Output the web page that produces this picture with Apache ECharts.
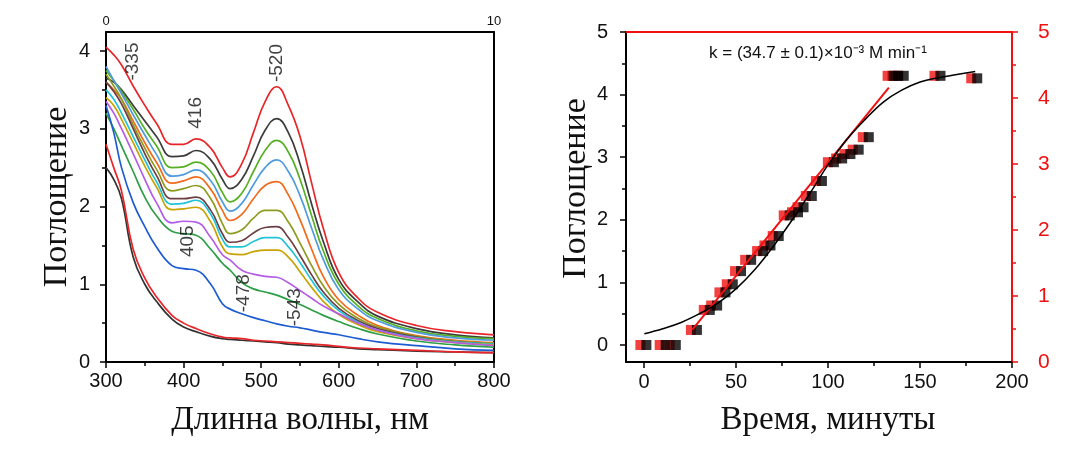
<!DOCTYPE html>
<html><head><meta charset="utf-8">
<script src="https://cdn.jsdelivr.net/npm/echarts@6/dist/echarts.min.js"></script>
<style>html,body{margin:0;padding:0;background:#fff}#c{width:1083px;height:471px}</style>
</head><body><div id="c"></div>
<script>
// ---- Left panel: spectra ----
const wavelengths = [300,310,320,335,350,365,385,400,416,435,450,460,475,490,505,520,535,550,565,580,600,625,650,700,750,800];
const spec01 = [4.05,3.95,3.82,3.55,3.3,3.07,2.8,2.8,2.87,2.75,2.5,2.38,2.55,2.95,3.35,3.54,3.3,2.9,2.3,1.72,1.15,0.82,0.64,0.47,0.39,0.35];
const spec02 = [3.65,3.6,3.5,3.3,3.1,2.9,2.64,2.65,2.72,2.6,2.35,2.23,2.35,2.65,2.98,3.13,2.95,2.55,2.03,1.55,1.06,0.77,0.59,0.43,0.35,0.31];
const spec03 = [3.75,3.62,3.48,3.25,3.0,2.78,2.5,2.51,2.57,2.45,2.18,2.06,2.17,2.45,2.72,2.85,2.7,2.35,1.88,1.43,1.0,0.72,0.56,0.4,0.33,0.3];
const spec04 = [3.8,3.62,3.45,3.18,2.92,2.67,2.39,2.41,2.47,2.33,2.06,1.94,2.04,2.28,2.5,2.6,2.45,2.14,1.72,1.32,0.93,0.68,0.53,0.38,0.31,0.28];
const spec05 = [3.6,3.5,3.38,3.1,2.82,2.57,2.3,2.33,2.38,2.22,1.95,1.82,1.9,2.1,2.27,2.32,2.15,1.83,1.45,1.1,0.8,0.6,0.47,0.34,0.28,0.25];
const spec06 = [3.7,3.55,3.38,3.05,2.75,2.48,2.2,2.23,2.27,2.1,1.78,1.65,1.7,1.85,1.95,1.95,1.8,1.53,1.24,0.98,0.74,0.56,0.45,0.33,0.27,0.24];
const spec07 = [3.6,3.48,3.32,3.0,2.68,2.4,2.1,2.1,2.12,1.95,1.65,1.54,1.56,1.66,1.73,1.74,1.6,1.37,1.12,0.9,0.69,0.53,0.43,0.32,0.26,0.23];
const spec08 = [3.5,3.38,3.2,2.9,2.6,2.32,2.03,2.04,2.08,1.9,1.58,1.48,1.48,1.55,1.6,1.6,1.48,1.28,1.05,0.85,0.66,0.51,0.41,0.31,0.26,0.23];
const spec09 = [3.4,3.3,3.12,2.82,2.52,2.25,1.96,1.97,1.99,1.8,1.48,1.39,1.38,1.42,1.44,1.44,1.35,1.16,0.96,0.78,0.61,0.48,0.39,0.3,0.25,0.22];
const spec10 = [3.35,3.2,3.0,2.68,2.35,2.05,1.79,1.81,1.8,1.6,1.38,1.31,1.18,1.13,1.1,1.09,1.02,0.92,0.82,0.72,0.62,0.5,0.41,0.3,0.25,0.21];
const spec11 = [3.2,3.0,2.78,2.45,2.12,1.88,1.68,1.65,1.63,1.45,1.27,1.18,1.02,0.94,0.9,0.86,0.8,0.74,0.67,0.6,0.52,0.43,0.36,0.27,0.22,0.19];
const spec12 = [3.3,2.95,2.5,2.05,1.74,1.48,1.24,1.2,1.18,1.0,0.75,0.68,0.62,0.57,0.53,0.49,0.46,0.44,0.41,0.38,0.35,0.3,0.26,0.21,0.17,0.15];
const spec13 = [2.5,2.35,2.1,1.35,1.0,0.78,0.55,0.45,0.39,0.33,0.3,0.29,0.28,0.27,0.26,0.25,0.23,0.22,0.21,0.2,0.19,0.17,0.16,0.14,0.13,0.12];
const spec14 = [2.8,2.5,2.2,1.45,1.08,0.84,0.6,0.5,0.43,0.36,0.32,0.31,0.3,0.28,0.27,0.26,0.25,0.24,0.23,0.22,0.2,0.18,0.17,0.15,0.13,0.12];
const spectra = [spec01,spec02,spec03,spec04,spec05,spec06,spec07,spec08,spec09,spec10,spec11,spec12,spec13,spec14];
const spectraColors = ['#e8262a','#3c3c3c','#56b024','#4f9bdc','#f26a1b','#8d9c1f','#6d3e43','#20c4d6','#c9a204','#b45ce6','#2e9e47','#1e5cd2','#333333','#e8262a'];

const peakText = ['-335','416','-520','405','-478','-543'];
const peakX = [335,416,520,405,478,543];
const peakY = [3.62,3.0,3.6,1.35,0.64,0.46];

// ---- Right panel: kinetics ----
const timeMin = [0,10.5,16,27.5,34.5,38.5,43,47,51.5,57,63.5,67.5,72,78,82.5,85.5,90,95.5,102,106.5,111,115.5,121,134.5,137,140,160,180];
const absorb = [0,0,0,0.24,0.56,0.63,0.84,0.97,1.18,1.36,1.5,1.59,1.74,2.07,2.12,2.2,2.38,2.62,2.92,2.98,3.05,3.12,3.32,4.3,4.3,4.3,4.3,4.26];
const fitT = [0,10,20,30,40,50,60,70,80,90,100,110,120,130,140,150,160,170,180];
const fitA = [0.18,0.26,0.36,0.5,0.67,0.9,1.2,1.57,1.98,2.42,2.88,3.28,3.6,3.88,4.07,4.2,4.27,4.32,4.37];
const linT = [26,133];
const linA = [0.24,4.11];
const kText = 'k = (34.7 ± 0.1)×10⁻³ M min⁻¹';

const SANS = 'Liberation Sans, Arial, sans-serif';
const SERIF = 'Liberation Serif, Times New Roman, serif';
const RED = '#f01010';

const lineBlack = {show:true, onZero:false, lineStyle:{color:'#000', width:2}};
const lineRed = {show:true, onZero:false, lineStyle:{color:RED, width:2}};
const noLine = {show:false, onZero:false};
const noTick = {show:false};
const noLabel = {show:false};
const noSplit = {show:false};
const tickBlack = {show:true, length:6, lineStyle:{color:'#000', width:1.5}};
const minorBlack = {show:true, splitNumber:2, length:4, lineStyle:{color:'#000', width:1.5}};

const series = [];
spectra.forEach((arr,i)=>{
  series.push({type:'line', xAxisIndex:0, yAxisIndex:0, showSymbol:false, symbol:'none',
    smooth:0.45, lineStyle:{width:1.7, color:spectraColors[i]}, color:spectraColors[i],
    data: wavelengths.map((w,j)=>[w, arr[j]]), z:2+i});
});
series.push({type:'scatter', xAxisIndex:0, yAxisIndex:0, symbolSize:0, silent:true,
  data: peakX.map((x,i)=>({value:[x, peakY[i]], name: peakText[i]})),
  label:{show:true, formatter:'{b}', position:'inside', rotate:90, align:'left', verticalAlign:'middle',
    fontFamily:SANS, fontSize:19, color:'#111'}, z:30});

series.push({type:'scatter', xAxisIndex:3, yAxisIndex:3, symbol:'rect', symbolSize:10, symbolOffset:[-4,0],
  itemStyle:{color:RED}, data: timeMin.map((t,i)=>[t, absorb[i]]), z:5});
series.push({type:'scatter', xAxisIndex:3, yAxisIndex:3, symbol:'rect', symbolSize:10, symbolOffset:[2,0],
  itemStyle:{color:'#000'}, data: timeMin.map((t,i)=>[t, absorb[i]]), z:6});
series.push({type:'line', xAxisIndex:3, yAxisIndex:3, symbol:'none', lineStyle:{color:RED, width:2},
  data: linT.map((t,i)=>[t, linA[i]]), z:7});
series.push({type:'line', xAxisIndex:3, yAxisIndex:3, symbol:'none', smooth:0.4, lineStyle:{color:'#000', width:1.5},
  data: fitT.map((t,i)=>[t, fitA[i]]), z:8});

const option = {
  backgroundColor:'#fff',
  animation:false,
  grid:[
    {left:106, top:32, width:388, height:330},
    {left:106, top:51, width:388, height:311},
    {left:626, top:32, width:386, height:330},
    {left:644, top:32, width:368, height:330},
    {left:626, top:32, width:386, height:313}
  ],
  xAxis:[
    {gridIndex:0, type:'value', min:300, max:800, interval:100, position:'bottom',
      axisLine:lineBlack, axisTick:tickBlack, minorTick:minorBlack,
      axisLabel:{fontFamily:SANS, fontSize:20, color:'#111', margin:9}, splitLine:noSplit, minorSplitLine:noSplit,
      name:'Длинна волны, нм', nameLocation:'middle', nameGap:42,
      nameTextStyle:{fontFamily:SERIF, fontSize:33, color:'#111'}},
    {gridIndex:0, type:'value', min:0, max:10, interval:10, position:'top',
      axisLine:lineBlack, axisTick:noTick, axisLabel:{fontFamily:SANS, fontSize:13, color:'#111', margin:4}, splitLine:noSplit},
    {gridIndex:1, type:'value', min:300, max:800, show:false, axisLine:noLine},
    {gridIndex:2, type:'value', min:-10, max:200, position:'bottom',
      axisLine:lineBlack, axisTick:noTick, axisLabel:noLabel, splitLine:noSplit},
    {gridIndex:2, type:'value', min:-10, max:200, position:'top',
      axisLine:lineRed, axisTick:noTick, axisLabel:noLabel, splitLine:noSplit},
    {gridIndex:3, type:'value', min:0, max:200, interval:50, position:'bottom',
      axisLine:noLine, axisTick:tickBlack, minorTick:minorBlack,
      axisLabel:{fontFamily:SANS, fontSize:20, color:'#111', margin:10}, splitLine:noSplit,
      name:'Время, минуты', nameLocation:'middle', nameGap:42,
      nameTextStyle:{fontFamily:SERIF, fontSize:33, color:'#111'}},
    {gridIndex:4, type:'value', min:0, max:200, show:false, axisLine:noLine}
  ],
  yAxis:[
    {gridIndex:0, type:'value', min:0, max:4.244, position:'left',
      axisLine:lineBlack, axisTick:noTick, axisLabel:noLabel, splitLine:noSplit,
      name:'Поглощение', nameLocation:'middle', nameGap:32,
      nameTextStyle:{fontFamily:SERIF, fontSize:34, color:'#111'}},
    {gridIndex:0, type:'value', min:0, max:4.244, position:'right',
      axisLine:lineBlack, axisTick:noTick, axisLabel:noLabel, splitLine:noSplit},
    {gridIndex:1, type:'value', min:0, max:4, interval:1, position:'left',
      axisLine:noLine, axisTick:tickBlack, minorTick:minorBlack,
      axisLabel:{fontFamily:SANS, fontSize:20, color:'#111', margin:16}, splitLine:noSplit},
    {gridIndex:2, type:'value', min:-0.272, max:5, position:'left',
      axisLine:lineBlack, axisTick:noTick, axisLabel:noLabel, splitLine:noSplit},
    {gridIndex:2, type:'value', min:0, max:5, interval:1, position:'right',
      axisLine:lineRed,
      axisTick:{show:true, length:6, lineStyle:{color:RED, width:1.5}},
      minorTick:{show:true, splitNumber:2, length:4, lineStyle:{color:RED, width:1.5}},
      axisLabel:{fontFamily:SANS, fontSize:21, color:RED, margin:26}, splitLine:noSplit},
    {gridIndex:3, type:'value', min:0, max:5, show:false, axisLine:noLine},
    {gridIndex:4, type:'value', min:0, max:5, interval:1, position:'left',
      axisLine:noLine, axisTick:tickBlack, minorTick:minorBlack,
      axisLabel:{fontFamily:SANS, fontSize:20, color:'#111', margin:18}, splitLine:noSplit,
      name:'Поглощение', nameLocation:'middle', nameGap:30,
      nameTextStyle:{fontFamily:SERIF, fontSize:34, color:'#111'}}
  ],
  graphic:[
    {type:'text', x:818, y:53, style:{text:kText, font:'17px '+SANS, fill:'#111', align:'center', verticalAlign:'middle'}}
  ],
  series: series
};
const chart = echarts.init(document.getElementById('c'), null, {renderer:'canvas'});
chart.setOption(option);
</script>
</body></html>
